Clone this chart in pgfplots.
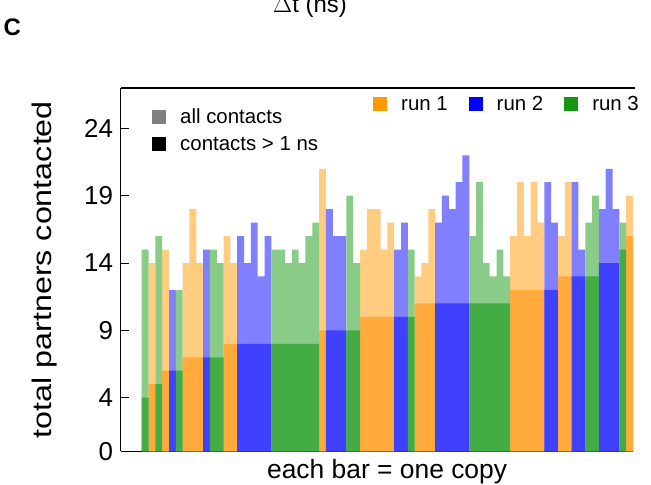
\documentclass[border=0pt]{standalone}
\usepackage{fontspec}
\setmainfont{Liberation Sans}
\usepackage{pgfplots}
\usepackage{pgfplotstable}
\pgfplotsset{compat=1.18}

% base colours of the three runs (legend swatches)
\definecolor{runO}{RGB}{255,153,0}
\definecolor{runB}{RGB}{0,0,255}
\definecolor{runG}{RGB}{20,150,20}
% bar shades: light = all contacts, dark = contacts > 1 ns
\definecolor{allO}{RGB}{255,204,128}
\definecolor{longO}{RGB}{255,170,58}
\definecolor{allB}{RGB}{128,128,255}
\definecolor{longB}{RGB}{64,64,255}
\definecolor{allG}{RGB}{136,204,136}
\definecolor{longG}{RGB}{68,172,68}
\definecolor{legAll}{RGB}{128,128,128}

% copy index, partners (all contacts), partners (contacts > 1 ns)
\pgfplotstableread{
idx all long
1 14 5
3 15 6
6 14 7
7 18 7
8 14 7
12 16 8
13 14 8
26 21 9
32 15 10
33 18 10
34 18 10
35 15 10
36 17 10
40 13 11
41 14 11
42 18 11
54 16 12
55 20 12
56 16 12
57 20 12
58 17 12
61 16 13
62 20 13
71 19 16
}\runone

\pgfplotstableread{
idx all long
4 12 6
9 15 7
14 16 8
15 14 8
16 17 8
17 13 8
18 16 8
27 18 9
28 16 9
29 16 9
37 15 10
38 17 10
43 17 11
44 19 11
45 18 11
46 20 11
47 22 11
59 20 12
60 17 12
63 20 13
64 15 13
67 18 14
68 21 14
69 18 14
}\runtwo

\pgfplotstableread{
idx all long
0 15 4
2 16 5
5 12 6
10 15 7
11 14 7
19 15 8
20 15 8
21 14 8
22 15 8
23 14 8
24 16 8
25 17 8
30 19 9
31 14 9
39 15 10
48 16 11
49 20 11
50 14 11
51 13 11
52 15 11
53 13 11
65 17 13
66 19 13
70 17 15
}\runthree

\pgfplotsset{
  copybar/.style={ybar, bar width=1, bar shift=0pt, draw=none, forget plot},
  swatch/.style={legend image code/.code={\fill[##1] (0bp,-7bp) rectangle (14bp,7bp);}},
}

\begin{document}
\begin{tikzpicture}[x=1bp,y=1bp]
\begin{axis}[
  name=ax,
  at={(0,0)}, anchor=south west,
  scale only axis, width=512.3bp, height=363.5bp,
  xmin=-3.58, xmax=71.5, ymin=0, ymax=27,
  axis lines*=left,
  axis line style={line width=1.3bp, black},
  xtick=\empty,
  ytick={0,4,9,14,19,24},
  tick align=inside,
  major tick length=8bp,
  tick style={black, line width=1bp},
  /pgf/number format/assume math mode=true,
  yticklabel style={font=\fontsize{26}{26}\selectfont, inner sep=0pt, xshift=-7.5bp},
  every axis x label/.style={at={(axis description cs:0.52,0)}, anchor=base, yshift=-27bp,
    font=\fontsize{26.5}{26.5}\selectfont},
  every axis y label/.style={at={(axis description cs:-0.1487,0.5)}, rotate=90, xscale=1.2, anchor=center,
    font=\fontsize{27}{27}\selectfont},
  xlabel={each bar = one copy},
  ylabel={total partners contacted},
  swatch,
  legend columns=3,
  legend cell align=left,
  legend style={at={(axis description cs:0.4925,0.9546)}, anchor=west, draw=none, fill=none,
    inner sep=0pt, font=\fontsize{20.5}{24}\selectfont,
    /tikz/every odd column/.append style={column sep=12bp},
    /tikz/every even column/.append style={column sep=19bp}},
]
\addplot[copybar, fill=allO]  table[x=idx, y=all]  {\runone};
\addplot[copybar, fill=allB]  table[x=idx, y=all]  {\runtwo};
\addplot[copybar, fill=allG]  table[x=idx, y=all]  {\runthree};
\addplot[copybar, fill=longO] table[x=idx, y=long] {\runone};
\addplot[copybar, fill=longB] table[x=idx, y=long] {\runtwo};
\addplot[copybar, fill=longG] table[x=idx, y=long] {\runthree};
\addlegendimage{fill=runO, draw=none}
\addlegendentry{run 1}
\addlegendimage{fill=runB, draw=none}
\addlegendentry{run 2}
\addlegendimage{fill=runG, draw=none}
\addlegendentry{run 3}
\end{axis}

% key for the two shades
\begin{axis}[
  at={(0,0)}, anchor=south west,
  scale only axis, width=512.3bp, height=363.5bp,
  xmin=0, xmax=1, ymin=0, ymax=1,
  hide axis,
  swatch,
  legend cell align=left,
  legend style={at={(axis description cs:0.0611,0.949)}, anchor=north west, draw=none, fill=none,
    inner sep=0pt, font=\fontsize{20.5}{24}\selectfont, row sep=7bp,
    /tikz/every odd column/.append style={column sep=12bp}},
]
\addlegendimage{fill=legAll, draw=none}
\addlegendentry{all contacts}
\addlegendimage{fill=black, draw=none}
\addlegendentry{contacts > 1 ns}
\end{axis}

\draw[line width=1.3bp] (ax.north west) -- ([xshift=2bp]ax.north east);

\node[anchor=base west, inner sep=0pt, font=\fontsize{24}{24}\selectfont\bfseries] at (-117.2,416) {C};

\begin{scope}
  \clip (-120.7,-33.5) rectangle (530.3,451.5);
  \node[anchor=base, inner sep=0pt, font=\fontsize{24}{24}\selectfont] at (189.3,438.8) {$\Delta$t (ns)};
\end{scope}

\pgfresetboundingbox
\useasboundingbox (-120.7,-33.5) rectangle (530.3,451.5);
\end{tikzpicture}
\end{document}
